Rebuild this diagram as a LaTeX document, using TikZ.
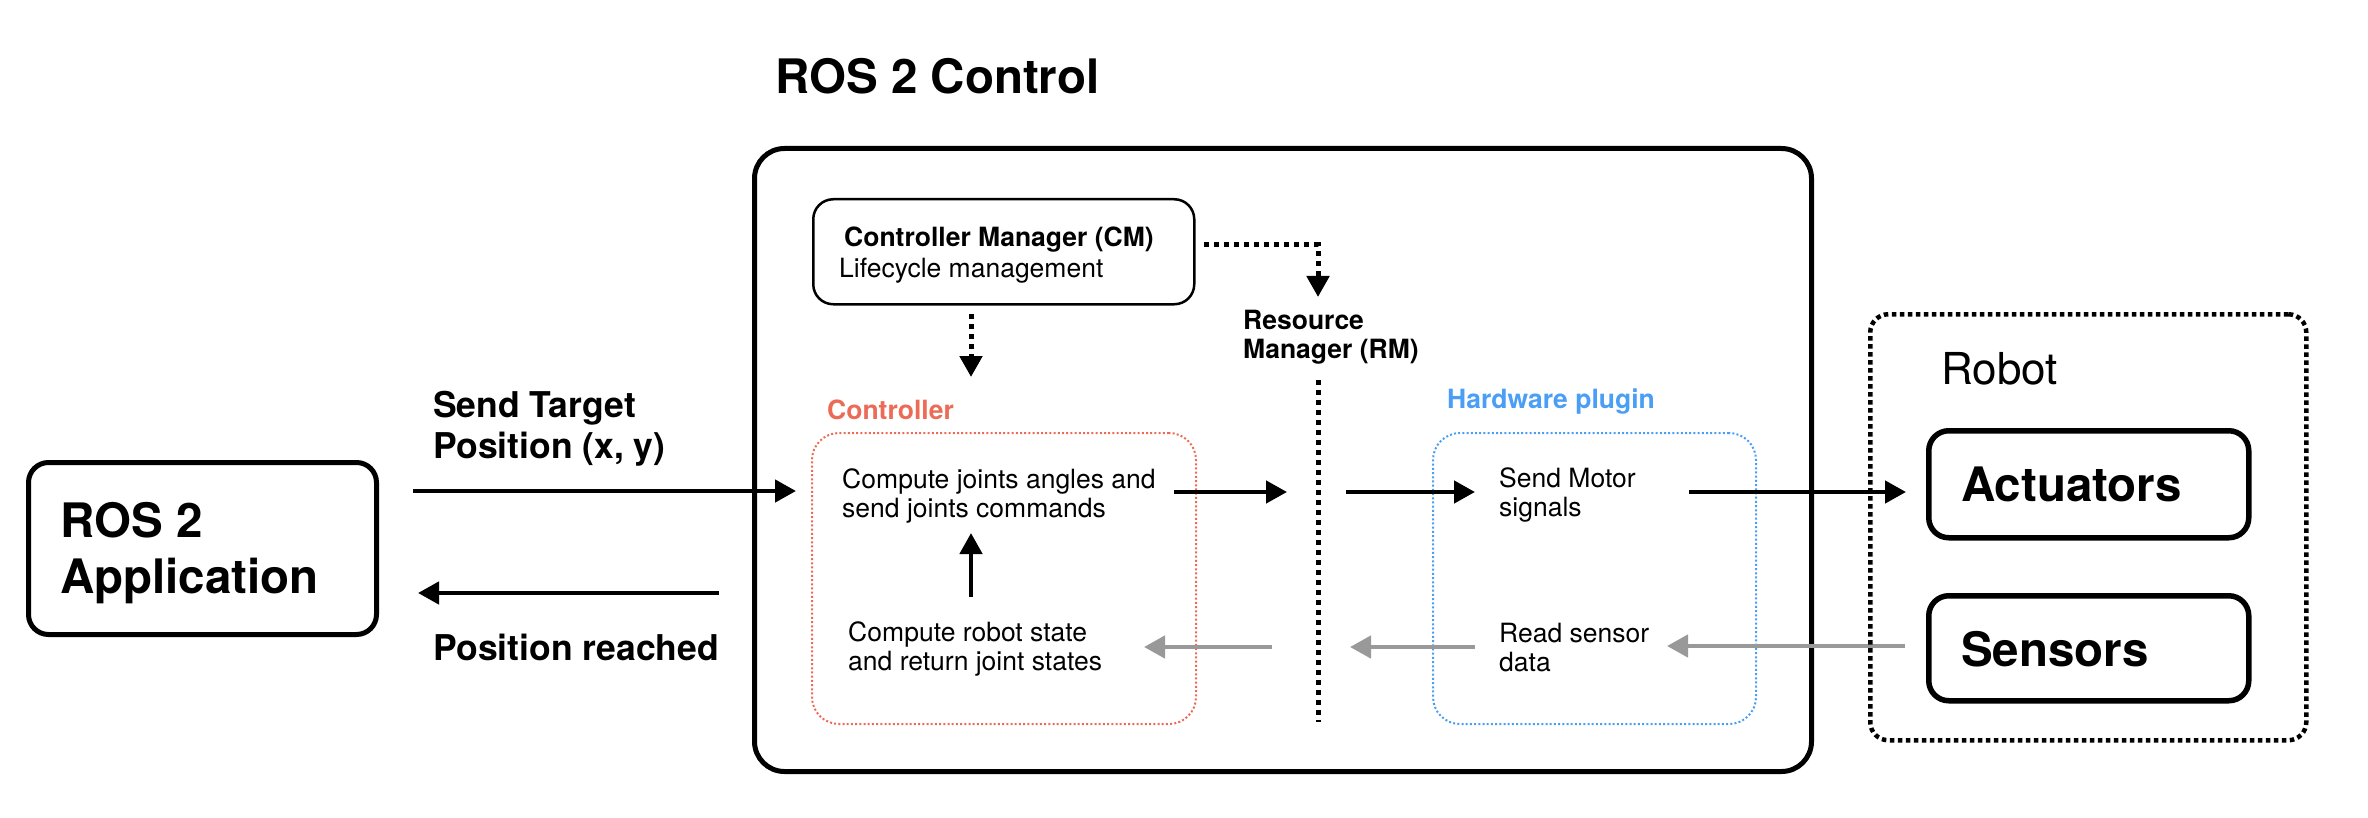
\documentclass[tikz,border=0pt]{standalone}
\usepackage{fontspec}
\setmainfont{TeX Gyre Heros}
\usetikzlibrary{arrows.meta}
\definecolor{ctrlred}{RGB}{236,107,86}
\definecolor{hwblue}{RGB}{74,158,245}
\definecolor{arrgrey}{RGB}{153,153,153}
\newcommand\szS{\fontsize{26.5}{29}\selectfont}
\newcommand\szM{\fontsize{35.5}{41}\selectfont\bfseries}
\newcommand\szL{\fontsize{47.5}{56}\selectfont\bfseries}
\begin{document}
\begin{tikzpicture}[x=1pt,y=-1pt,
  box/.style={draw, line width=5pt, rounded corners=20pt, inner sep=0pt, anchor=north west},
  lbl/.style={anchor=base west, inner sep=0pt},
  arr/.style={line width=4.5pt, -{Triangle[length=21pt,width=22pt]}},
  garr/.style={arr, color=arrgrey},
  dotarr/.style={arr, line width=5pt, dash pattern=on 5pt off 5pt},
  dotline/.style={line width=5pt, dash pattern=on 5pt off 5pt},
  ctrlbox/.style={draw=ctrlred, line width=2pt, dash pattern=on 2pt off 2.2pt, rounded corners=27pt, inner sep=0pt, anchor=north west},
  hwbox/.style={ctrlbox, draw=hwblue}
]
\useasboundingbox (0,0) rectangle (2368,818);

% title
\node[lbl] (title) at (775,94) {\szL ROS 2 Control};

% ROS 2 application
\node[box, minimum width=348pt, minimum height=172pt] (app) at (26,460) {};
\node[lbl] (apptext) at (60,537) {\szL\vtop{\hbox{ROS 2}\hbox{Application}}};

% send / back arrows
\coordinate (sendA) at (413,491);
\coordinate (sendB) at (796,491);
\coordinate (backA) at (719,593);
\coordinate (backB) at (418,593);
\draw[arr] (sendA) -- (sendB);
\draw[arr] (backA) -- (backB);
\node[lbl] (sendlbl) at (433,417) {\szM\vtop{\hbox{Send Target}\hbox{Position (x, y)}}};
\node[lbl] (reachlbl) at (433,660) {\szM Position reached};

% main box
\node[box, rounded corners=30pt, minimum width=1057pt, minimum height=623pt] (main) at (752,146) {};

% controller manager
\node[box, line width=2.5pt, minimum width=381pt, minimum height=105pt] (cm) at (812,198) {};
\node[lbl] (cmtitle) at (844,247) {\szS\bfseries Controller Manager (CM)};
\node[lbl] (cmsub) at (839,277) {\szS Lifecycle management};

\coordinate (cmR) at (1204,245);
\coordinate (rmTop) at (1318,297);
\draw[dotarr] (cmR) -| (rmTop);
\coordinate (cmD) at (971,314);
\coordinate (ctrlTop) at (971,377);
\draw[dotarr] (cmD) -- (ctrlTop);

% resource manager
\node[lbl] (rm) at (1243,329) {\szS\bfseries\vtop{\hbox{Resource}\hbox{Manager (RM)}}};
\coordinate (rmL1) at (1318,380);
\coordinate (rmL2) at (1318,722);
\draw[dotline] (rmL1) -- (rmL2);

% controller
\node[lbl, text=ctrlred] (ctrllbl) at (827,419) {\szS\bfseries Controller};
\node[ctrlbox, minimum width=384pt, minimum height=291pt] (ctrl) at (811,432) {};
\node[lbl] (cmdtext) at (842,488) {\szS\vtop{\hbox{Compute joints angles and}\hbox{send joints commands}}};
\node[lbl] (statetext) at (848,641) {\szS\vtop{\hbox{Compute robot state}\hbox{and return joint states}}};
\coordinate (upA) at (971,597);
\coordinate (upB) at (971,533);
\draw[arr] (upA) -- (upB);

% hardware plugin
\node[lbl, text=hwblue] (hwlbl) at (1447,408) {\szS\bfseries Hardware plugin};
\node[hwbox, minimum width=323pt, minimum height=291pt] (hw) at (1432,432) {};
\node[lbl] (motortext) at (1499,487) {\szS\vtop{\hbox{Send Motor}\hbox{signals}}};
\node[lbl] (sensortext) at (1499,642) {\szS\vtop{\hbox{Read sensor}\hbox{data}}};

% command arrows
\coordinate (c1) at (1174,492);
\coordinate (c2) at (1287,492);
\coordinate (c3) at (1346,492);
\coordinate (c4) at (1475,492);
\coordinate (c5) at (1689,492);
\coordinate (c6) at (1906,492);
\draw[arr] (c1) -- (c2);
\draw[arr] (c3) -- (c4);
\draw[arr] (c5) -- (c6);

% state arrows
\coordinate (s1) at (1905,646);
\coordinate (s2) at (1667,646);
\coordinate (s3) at (1475,647);
\coordinate (s4) at (1350,647);
\coordinate (s5) at (1272,647);
\coordinate (s6) at (1144,647);
\draw[garr] (s1) -- (s2);
\draw[garr] (s3) -- (s4);
\draw[garr] (s5) -- (s6);

% robot
\node[box, line width=4.5pt, dash pattern=on 4.5pt off 3.5pt, rounded corners=18pt, minimum width=436pt, minimum height=426pt] (robot) at (1868,312) {};
\node[lbl] (robotlbl) at (1941,384) {\fontsize{44}{50}\selectfont Robot};
\node[box, line width=5.5pt, minimum width=320pt, minimum height=107pt] (act) at (1926,428) {};
\node[lbl] (acttext) at (1961,501) {\szL Actuators};
\node[box, line width=5.5pt, minimum width=320pt, minimum height=105pt] (sens) at (1926,593) {};
\node[lbl] (senstext) at (1961,666) {\szL Sensors};
\end{tikzpicture}
\end{document}
